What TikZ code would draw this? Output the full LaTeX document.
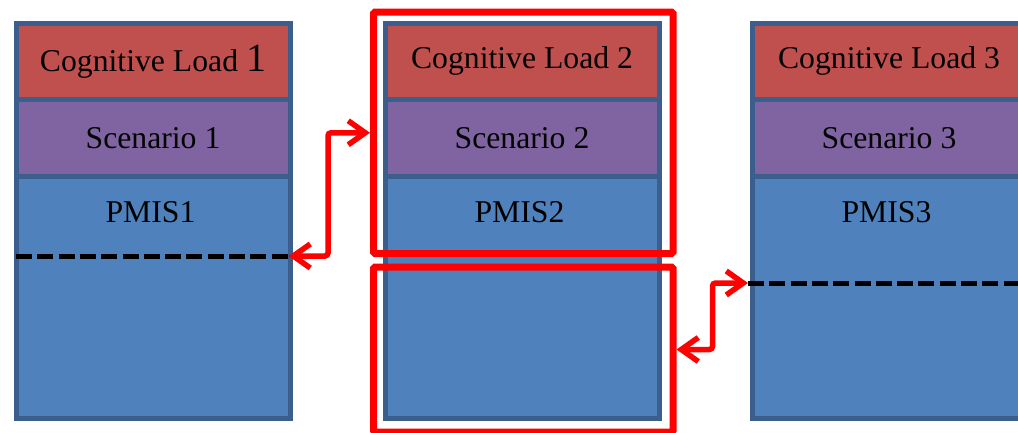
\documentclass[tikz,border=0pt]{standalone}
\usepackage{fontspec}
\setmainfont{Liberation Serif}
\usetikzlibrary{arrows.meta}
\definecolor{cred}{HTML}{C0504D}
\definecolor{cpurple}{HTML}{8064A2}
\definecolor{cblue}{HTML}{4F81BD}
\definecolor{cborder}{HTML}{3B5E8C}
\definecolor{frame}{HTML}{FF0000}
\begin{document}
\begin{tikzpicture}[x=1pt,y=-1pt,
  band/.style={draw=cborder, line width=5pt, minimum width=274pt, inner sep=0pt,
    anchor=north west, font=\fontsize{31.7}{36}\selectfont, text=black},
  loadband/.style={band, fill=cred, minimum height=76.5pt},
  scenband/.style={band, fill=cpurple, minimum height=77pt},
  pmisband/.style={band, fill=cblue, minimum height=241.5pt},
  lbl/.style={font=\fontsize{31.7}{36}\selectfont, inner sep=0pt},
  redframe/.style={draw=frame, line width=7pt, rounded corners=1.5pt, inner sep=0pt,
    minimum width=299.5pt, anchor=north west},
  sep/.style={draw=black, line width=5pt, dash pattern=on 16pt off 5.3pt},
  link/.style={draw=frame, line width=5.5pt, rounded corners=3pt,
    {Straight Barb[length=17pt,width=24pt]}-{Straight Barb[length=17pt,width=24pt]}}
]
\useasboundingbox (0,0) rectangle (1018,432);
\clip (0,0) rectangle (1018,432);
% column 1
\node[pmisband]  (b1) at (13.5,174) {};
\node[scenband]  (s1) at (13.5,97) {Scenario 1};
\node[loadband]  (l1) at (13.5,20.5) {Cognitive Load {\fontsize{40}{40}\selectfont 1}};
\node[lbl] (t1) at (150.5,212) {PMIS1};
% column 2
\node[pmisband]  (b2) at (382.5,174) {};
\node[scenband]  (s2) at (382.5,97) {Scenario 2};
\node[loadband]  (l2) at (382.5,20.5) {Cognitive Load 2};
\node[lbl] (t2) at (519.5,212) {PMIS2};
% column 3
\node[pmisband]  (b3) at (749.5,174) {};
\node[scenband]  (s3) at (749.5,97) {Scenario 3};
\node[loadband]  (l3) at (749.5,20.5) {Cognitive Load 3};
\node[lbl] (t3) at (886.5,212) {PMIS3};
% dashed separators
\coordinate (d1l) at (16,256);
\coordinate (d1r) at (288.5,256);
\coordinate (d3l) at (748,283);
\coordinate (d3r) at (1020,283);
\draw[sep] (d1l) -- (d1r);
\draw[sep] (d3l) -- (d3r);
% red frames
\node[redframe, minimum height=241.5pt] (f1) at (370,8.5) {};
\node[redframe, minimum height=165pt] (f2) at (370,263.5) {};
% connectors
\draw[link] (d1r) -- ++(39.5,0) |- (f1.west);
\draw[link] (f2.east) -- ++(36,0) |- (d3l);
\end{tikzpicture}
\end{document}
